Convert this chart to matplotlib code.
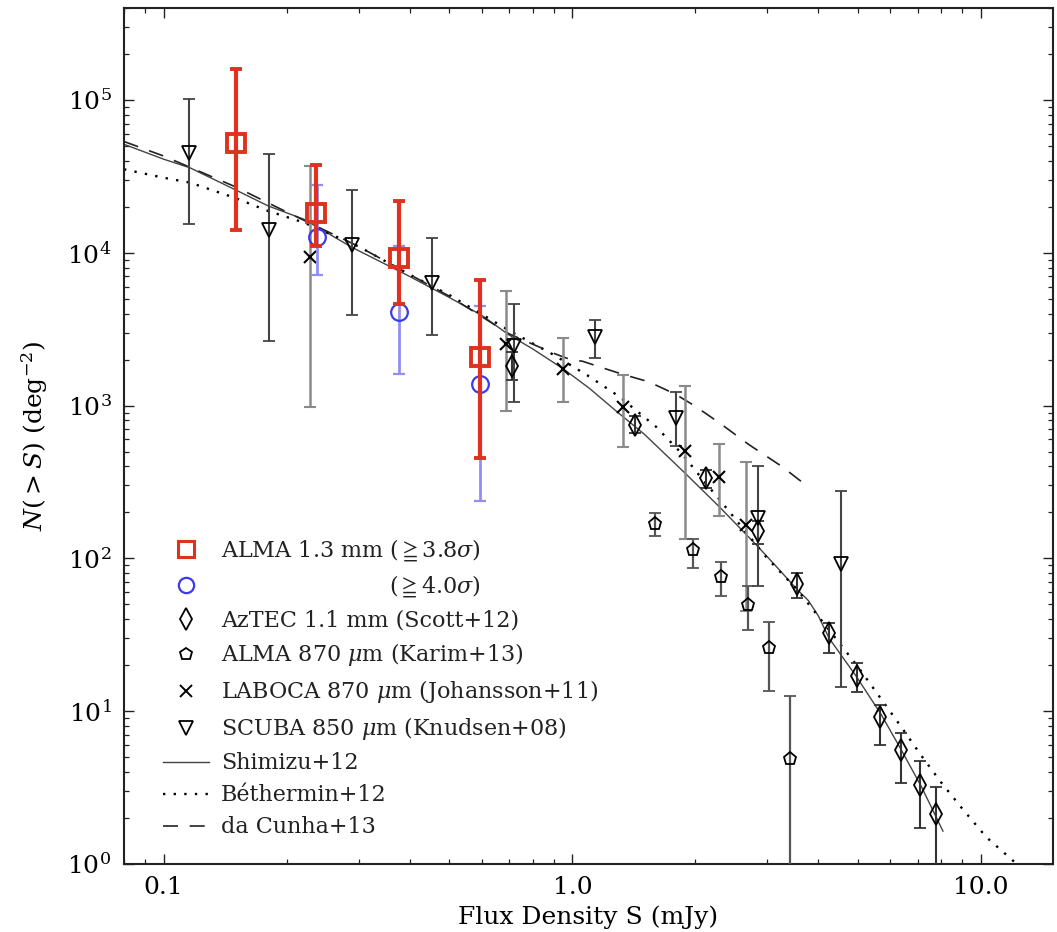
import numpy as np
import matplotlib
matplotlib.use("Agg")
import matplotlib.pyplot as plt
from matplotlib.ticker import FuncFormatter, NullFormatter, LogLocator
from matplotlib.lines import Line2D

plt.rcParams['font.family'] = ['DejaVu Serif', 'DejaVu Sans']
plt.rcParams['mathtext.fontset'] = 'dejavuserif'

# ---- ALMA 1.3 mm (>=3.8 sigma) ----
alma38_s = [0.150, 0.236, 0.376, 0.593]
alma38_n = [5.26e4, 1.82e4, 9.2e3, 2.07e3]
alma38_hi = [1.59e5, 3.74e4, 2.19e4, 6.63e3]
alma38_lo = [1.41e4, 1.10e4, 4.6e3, 4.53e2]

# ---- ALMA 1.3 mm (>=4.0 sigma) ----
alma40_s = [0.237, 0.376, 0.593]
alma40_n = [1.26e4, 4.07e3, 1.39e3]
alma40_hi = [2.77e4, 1.11e4, 4.5e3]
alma40_lo = [7.18e3, 1.6e3, 2.39e2]

# ---- AzTEC 1.1 mm (Scott+12) ----
aztec_s = [0.713, 1.421, 2.122, 2.843, 3.54, 4.254, 4.96, 5.655, 6.37, 7.08, 7.78]
aztec_n = [1825, 752, 335, 150, 67.8, 32.4, 17.1, 9.1, 5.54, 3.31, 2.13]
aztec_hi = [2250, 850, 380, 175, 80, 38, 20.6, 11.0, 7.2, 4.7, 3.17]
aztec_lo = [1480, 660, 290, 125, 55, 24, 13.3, 6.0, 3.39, 1.72, 0.5]

# ---- ALMA 870 um (Karim+13) ----
karim_s = [1.59, 1.969, 2.314, 2.687, 3.02, 3.417]
karim_n = [169, 113, 75.7, 49.4, 26.1, 4.83]
karim_hi = [197, 133, 95, 65.9, 38.2, 12.6]
karim_lo = [140, 86.8, 56.6, 33.9, 13.5, 0.5]

# ---- LABOCA 870 um (Johansson+11) ----
laboca_s = [0.228, 0.687, 0.95, 1.328, 1.89, 2.288, 2.657]
laboca_n = [9420, 2530, 1738, 975, 505, 340, 166]
laboca_hi = [3.7e4, 5650, 2770, 1592, 1336, 563, 430]
laboca_lo = [985, 918, 1052, 533, 133, 189, 45]

# ---- SCUBA 850 um (Knudsen+08) ----
scuba_s = [0.1157, 0.1807, 0.289, 0.453, 0.72, 1.139, 1.797, 2.843, 4.535]
scuba_n = [4.52e4, 1.41e4, 1.12e4, 6390, 2467, 2800, 830, 184, 91.6]
scuba_hi = [1.02e5, 4.45e4, 2.57e4, 1.25e4, 4620, 3614, 1230, 405, 278]
scuba_lo = [1.55e4, 2660, 3935, 2900, 1062, 2036, 540, 66, 14.4]

# ---- model counts ----
shimizu_s = [0.08, 0.1, 0.116, 0.15, 0.18, 0.22, 0.29, 0.4, 0.5, 0.6, 0.7, 0.8,
             0.95, 1.1, 1.3, 1.5, 1.89, 2.3, 2.84, 3.2, 3.54, 3.78, 4.0, 4.25,
             4.96, 5.7, 6.4, 7.15, 8.07]
shimizu_n = [5.13e4, 4.1e4, 3.6e4, 2.58e4, 2.03e4, 1.66e4, 1.08e4, 7000, 5100,
             3900, 2900, 2350, 1740, 1300, 890, 650, 360, 215, 120, 85, 63, 53,
             42, 30, 16.8, 9.5, 5.5, 3.2, 1.64]

bethermin_s = [0.08, 0.1, 0.116, 0.15, 0.18, 0.22, 0.3, 0.4, 0.5, 0.7, 0.9, 1.1,
               1.3, 1.6, 1.86, 2.1, 2.3, 2.6, 3.0, 3.54, 4.25, 5.0, 5.7, 6.4,
               7.15, 8.0, 9.0, 10.3, 12.5]
bethermin_n = [3.52e4, 3.1e4, 2.88e4, 2.28e4, 1.88e4, 1.58e4, 1.1e4, 7200, 5300,
               3100, 2150, 1550, 1150, 730, 480, 320, 240, 160, 100, 63, 34,
               19.5, 12, 7.8, 5.1, 3.4, 2.3, 1.5, 0.95]

dacunha_s = [0.08, 0.1, 0.15, 0.2, 0.3, 0.5, 0.7, 0.9, 0.99, 1.06, 1.16, 1.33,
             1.54, 1.79, 2.0, 2.32, 2.7, 3.25, 3.71]
dacunha_n = [5.35e4, 4.3e4, 2.7e4, 1.85e4, 1.1e4, 5200, 2950, 2200, 2000, 1950,
             1800, 1600, 1430, 1185, 990, 752, 557, 401, 305]

RED = '#e0301e'
BLUE = '#3a3af0'
DOT = (0, (1, 3.5))
DASH = (0, (9, 7))


def yerr(n, lo, hi):
    n = np.asarray(n)
    return [n - np.asarray(lo), np.asarray(hi) - n]


fig = plt.figure(figsize=(10.57, 9.32), dpi=100)
ax = fig.add_axes([124 / 1057, 68 / 932, 929 / 1057, 856 / 932])

# models
ax.plot(shimizu_s, shimizu_n, '-', color='#444444', lw=1.0, zorder=2)
ax.plot(bethermin_s, bethermin_n, ls=DOT, color='black', lw=1.7, zorder=2)
ax.plot(dacunha_s, dacunha_n, ls=DASH, color='#222222', lw=1.2, zorder=2)

# literature points
ax.errorbar(laboca_s, laboca_n, yerr=yerr(laboca_n, laboca_lo, laboca_hi),
            fmt='x', color='black', ms=9, mew=1.5, ecolor='#8a8a8a',
            elinewidth=1.8, capsize=4.5, capthick=1.5, zorder=4)
ax.errorbar(karim_s, karim_n, yerr=yerr(karim_n, karim_lo, karim_hi),
            fmt='p', mfc='none', mec='black', ms=9.5, mew=1.3,
            ecolor='#555555', elinewidth=1.6, capsize=4.5, capthick=1.5, zorder=4)
ax.errorbar(aztec_s, aztec_n, yerr=yerr(aztec_n, aztec_lo, aztec_hi),
            fmt='d', mfc='none', mec='black', ms=11, mew=1.3,
            ecolor='#333333', elinewidth=1.5, capsize=4.5, capthick=1.5, zorder=4)
ax.errorbar(scuba_s, scuba_n, yerr=yerr(scuba_n, scuba_lo, scuba_hi),
            fmt='v', mfc='none', mec='black', ms=10, mew=1.3,
            ecolor='#444444', elinewidth=1.5, capsize=4.5, capthick=1.5, zorder=4)

# ALMA 1.3 mm counts
ax.errorbar(alma40_s, alma40_n, yerr=yerr(alma40_n, alma40_lo, alma40_hi),
            fmt='o', mfc='none', mec=BLUE, ms=12, mew=1.6,
            ecolor='#8f8ff5', elinewidth=2.0, capsize=4.5, capthick=1.8, zorder=5)
ax.errorbar(alma38_s, alma38_n, yerr=yerr(alma38_n, alma38_lo, alma38_hi),
            fmt='s', mfc='none', mec=RED, ms=12.5, mew=2.8,
            ecolor=RED, elinewidth=3.0, capsize=4.5, capthick=2.5, zorder=6)

ax.set_xscale('log')
ax.set_yscale('log')
ax.set_xlim(0.08, 15)
ax.set_ylim(1, 4e5)

ax.xaxis.set_major_formatter(FuncFormatter(lambda v, p: f'{v:.1f}'))
ax.xaxis.set_minor_formatter(NullFormatter())
ax.yaxis.set_minor_locator(LogLocator(base=10, subs=np.arange(2, 10)))
ax.yaxis.set_minor_formatter(NullFormatter())
ax.tick_params(which='both', direction='in', top=True, right=True,
               labelsize=18, color='#222222')
ax.tick_params(which='major', length=7, width=1.0, pad=9)
ax.tick_params(which='minor', length=3.5, width=0.9)
for sp in ax.spines.values():
    sp.set_linewidth(1.5)
    sp.set_color('#222222')

ax.set_xlabel('Flux Density S (mJy)', fontsize=18, labelpad=4)
ax.set_ylabel(r'$N(>S)$ (deg$^{-2}$)', fontsize=18, labelpad=12)

handles = [
    Line2D([], [], ls='none', marker='s', mfc='none', mec=RED, ms=11, mew=2.2),
    Line2D([], [], ls='none', marker='o', mfc='none', mec=BLUE, ms=11, mew=1.6),
    Line2D([], [], ls='none', marker='d', mfc='none', mec='black', ms=11, mew=1.3),
    Line2D([], [], ls='none', marker='p', mfc='none', mec='black', ms=9, mew=1.3),
    Line2D([], [], ls='none', marker='x', color='black', ms=9, mew=1.4),
    Line2D([], [], ls='none', marker='v', mfc='none', mec='black', ms=10, mew=1.3),
    Line2D([], [], ls='-', color='#444444', lw=1.0),
    Line2D([], [], ls=DOT, color='black', lw=1.7),
    Line2D([], [], ls=DASH, color='#222222', lw=1.2),
]
sigma40_label = r'($\geqq$4.0$\sigma$)'
labels = [
    r'ALMA 1.3 mm ($\geqq$3.8$\sigma$)',
    sigma40_label,
    'AzTEC 1.1 mm (Scott+12)',
    r'ALMA 870 $\mu$m (Karim+13)',
    r'LABOCA 870 $\mu$m (Johansson+11)',
    r'SCUBA 850 $\mu$m (Knudsen+08)',
    'Shimizu+12',
    'Béthermin+12',
    'da Cunha+13',
]
leg = ax.legend(handles, labels, loc='lower left',
                bbox_to_anchor=(0.042, 0.03), frameon=False, fontsize=16,
                numpoints=1, handlelength=2.05, handletextpad=0.55,
                labelspacing=0.45, borderpad=0, borderaxespad=0)
for t in leg.get_texts():
    t.set_color('#222222')

# right-align the second ALMA label under the sigma part of the first one
fig.canvas.draw()
texts = leg.get_texts()
bb0 = texts[0].get_window_extent()
bb1 = texts[1].get_window_extent()
texts[1].set_alpha(0)
fig.text(bb0.x1, 0.5 * (bb1.y0 + bb1.y1), sigma40_label, transform=None,
         ha='right', va='center', fontsize=16, color='#222222')

fig.savefig('out.png', dpi=100)
